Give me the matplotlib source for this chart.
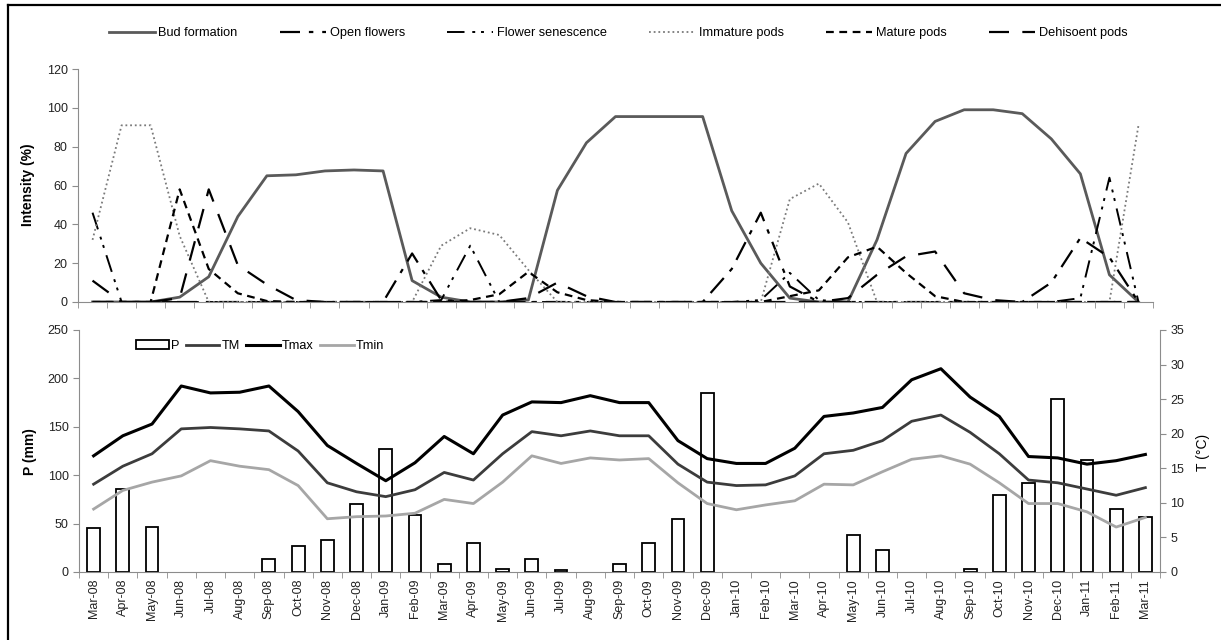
import matplotlib
matplotlib.use("Agg")
import matplotlib.pyplot as plt
from matplotlib.patches import Patch
from matplotlib.lines import Line2D
import numpy as np

plt.rcParams["font.family"] = ["Liberation Sans", "DejaVu Sans"]

# ---- data -------------------------------------------------------------
months = ["Mar-08", "Apr-08", "May-08", "Jun-08", "Jul-08", "Aug-08", "Sep-08",
          "Oct-08", "Nov-08", "Dec-08", "Jan-09", "Feb-09", "Mar-09", "Apr-09",
          "May-09", "Jun-09", "Jul-09", "Aug-09", "Sep-09", "Oct-09", "Nov-09",
          "Dec-09", "Jan-10", "Feb-10", "Mar-10", "Apr-10", "May-10", "Jun-10",
          "Jul-10", "Aug-10", "Sep-10", "Oct-10", "Nov-10", "Dec-10", "Jan-11",
          "Feb-11", "Mar-11"]

# phenophase intensity (%)
bud_formation = [0, 0, 0, 2.5, 13, 44, 65, 65.5, 67.5, 68, 67.5, 11, 2.5, 0, 0, 1,
                 57.5, 82, 95.5, 95.5, 95.5, 95.5, 47, 20, 2, 0, 0, 32, 76.5, 93,
                 99, 99, 97, 84, 66, 14, 0]
open_flowers = [0, 0, 0, 0, 0, 0, 0, 0, 0, 0, 0, 25, 1, 0, 0, 0, 0, 0, 0, 0, 0,
                0, 17, 46, 8, 0, 0, 0, 0, 0, 0, 0, 0, 10, 33, 23, 0]
flower_senescence = [46, 0, 0, 0, 0, 0, 0, 0, 0, 0, 0, 0, 1, 29, 0, 0, 0, 0, 0, 0,
                     0, 0, 0, 1, 15, 1, 0, 0, 0, 0, 0, 0, 0, 0, 2, 64, 0]
immature_pods = [32, 91, 91, 34, 0, 0, 0, 0, 0, 0, 0, 0, 29, 38, 34.5, 16.5, 0, 0,
                 0, 0, 0, 0, 0, 0, 53, 61, 41, 0, 0, 0, 0, 0, 0, 0, 0, 0, 91]
mature_pods = [0, 0, 0, 58, 17, 4.5, 0.5, 0, 0, 0, 0, 0, 0, 1, 4, 15.5, 5, 1, 0, 0,
               0, 0, 0, 0, 3, 6, 23, 28.5, 15, 3, 0, 0, 0, 0, 0, 0, 0]
dehiscent_pods = [11, 0, 0, 2, 58, 19, 9, 1, 0, 0, 0, 0, 0, 0, 0, 2, 10, 3, 0, 0,
                  0, 0, 0, 0, 0, 0, 2, 14, 23.5, 26, 4.5, 1, 0, 0, 0, 0, 0]

# monthly precipitation (mm)
precip = [45, 86, 46, 0, 0, 0, 13, 27, 33, 70, 127, 59, 8, 30, 3.4, 13, 1.7, 0,
          8.3, 30, 55, 185, 0, 0, 0, 0, 38, 22.7, 0, 0, 3.4, 79.5, 92, 178.7,
          115.7, 65, 57]
# temperatures (°C)
t_mean = [12.7, 15.3, 17.1, 20.7, 20.9, 20.7, 20.4, 17.5, 12.9, 11.6, 10.9, 11.9,
          14.4, 13.3, 17.1, 20.3, 19.7, 20.4, 19.7, 19.7, 15.6, 13.0, 12.5, 12.6,
          13.9, 17.1, 17.6, 19.0, 21.8, 22.7, 20.2, 17.1, 13.3, 12.9, 12.0, 11.1,
          12.2]
t_max = [16.8, 19.7, 21.4, 26.9, 25.9, 26.0, 26.9, 23.2, 18.3, 15.7, 13.2, 15.8,
         19.6, 17.1, 22.7, 24.6, 24.5, 25.5, 24.5, 24.5, 19.0, 16.4, 15.7, 15.7,
         17.9, 22.5, 23.0, 23.8, 27.8, 29.4, 25.3, 22.5, 16.7, 16.5, 15.6, 16.1,
         17.0]
t_min = [9.1, 11.8, 13.0, 13.9, 16.1, 15.3, 14.8, 12.5, 7.7, 8.0, 8.1, 8.5, 10.5,
         9.9, 13.0, 16.8, 15.7, 16.5, 16.2, 16.4, 12.9, 9.9, 9.0, 9.7, 10.3, 12.7,
         12.6, 14.5, 16.3, 16.8, 15.6, 12.9, 9.9, 9.9, 8.7, 6.5, 7.9]

# ---- figure -----------------------------------------------------------
W, H = 1221, 640
fig = plt.figure(figsize=(W / 100, H / 100), dpi=100)


def fx(px):
    return px / W


def fy(py):
    return 1 - py / H


x = np.arange(len(months))
spine_col = "#8c8c8c"
tick_kw = dict(labelsize=9, colors="#222222")

# ---- phenology panel --------------------------------------------------
ax1 = fig.add_axes([fx(78), fy(302), fx(1153) - fx(78), fy(69) - fy(302)])
phases = [
    ("Bud formation", bud_formation, dict(color="#5a5a5a", lw=2.0, ls="-")),
    ("Open flowers", open_flowers, dict(color="black", lw=1.6, ls=(0, (9, 4, 2, 4)))),
    ("Flower senescence", flower_senescence,
     dict(color="black", lw=1.4, ls=(0, (9, 4, 1.5, 3, 1.5, 4)))),
    ("Immature pods", immature_pods, dict(color="#7a7a7a", lw=1.3, ls=(0, (1, 1.6)))),
    ("Mature pods", mature_pods, dict(color="black", lw=1.6, ls=(0, (3.5, 2.5)))),
    ("Dehisoent pods", dehiscent_pods, dict(color="black", lw=1.6, ls=(0, (9, 6)))),
]
handles = []
for name, vals, style in phases:
    ln, = ax1.plot(x, vals, label=name, **style)
    handles.append(ln)

ax1.set_xlim(-0.5, len(months) - 0.5)
ax1.set_ylim(0, 120)
ax1.set_yticks(range(0, 121, 20))
ax1.set_xticks([])
ax1.set_xticks(np.arange(-0.5, len(months)), minor=True)
ax1.tick_params(axis="x", which="minor", length=4, color=spine_col, direction="out")
ax1.tick_params(axis="y", length=4, color=spine_col, **tick_kw)
for s in ("top", "right"):
    ax1.spines[s].set_visible(False)
for s in ("left", "bottom"):
    ax1.spines[s].set_color(spine_col)
fig.text(fx(28), fy(185), "Intensity (%)", rotation=90, fontsize=10,
         fontweight="bold", ha="center", va="center")

fig.legend(handles=handles, loc="center", bbox_to_anchor=(fx(618), fy(33)),
           ncol=6, frameon=False, fontsize=9.2, handlelength=3.6,
           columnspacing=3.3, handletextpad=0.3)

# ---- climate panel ----------------------------------------------------
ax2 = fig.add_axes([fx(79), fy(572), fx(1160) - fx(79), fy(330) - fy(572)])
precip_arr = np.array(precip, dtype=float)
wet = precip_arr > 0
ax2.bar(x[wet], precip_arr[wet], width=0.44, color="white", edgecolor="black",
        linewidth=1.3, zorder=2)
ax2.set_xlim(-0.5, len(months) - 0.5)
ax2.set_ylim(0, 250)
ax2.set_yticks(range(0, 251, 50))
ax2.set_xticks(x)
ax2.set_xticklabels(months, rotation=90)
ax2.set_xticks(np.arange(-0.5, len(months)), minor=True)
ax2.tick_params(axis="x", which="major", length=0, pad=5, **tick_kw)
ax2.tick_params(axis="x", which="minor", length=4, color=spine_col, direction="out")
ax2.tick_params(axis="y", length=4, color=spine_col, **tick_kw)
ax2.spines["top"].set_visible(False)
ax2.spines["right"].set_visible(False)
for s in ("left", "bottom"):
    ax2.spines[s].set_color(spine_col)
fig.text(fx(30), fy(452), "P (mm)", rotation=90, fontsize=10,
         fontweight="bold", ha="center", va="center")

ax3 = ax2.twinx()
ln_tm, = ax3.plot(x, t_mean, color="#3c3c3c", lw=2.0, label="TM")
ln_tx, = ax3.plot(x, t_max, color="black", lw=2.2, label="Tmax")
ln_tn, = ax3.plot(x, t_min, color="#a6a6a6", lw=2.0, label="Tmin")
ax3.set_ylim(0, 35)
ax3.set_yticks(range(0, 36, 5))
ax3.tick_params(axis="y", length=4, color=spine_col, **tick_kw)
ax3.spines["top"].set_visible(False)
ax3.spines["left"].set_visible(False)
ax3.spines["bottom"].set_visible(False)
ax3.spines["right"].set_color(spine_col)
fig.text(fx(1203), fy(452), "T (°C)", rotation=90, fontsize=10,
         ha="center", va="center")

p_handle = Patch(facecolor="white", edgecolor="black", linewidth=1.3, label="P")
ax2.legend(handles=[p_handle, ln_tm, ln_tx, ln_tn], loc="center left",
           bbox_to_anchor=(fx(124), fy(346)), bbox_transform=fig.transFigure,
           ncol=4, frameon=False, fontsize=9.2, handlelength=2.6,
           handleheight=0.6, columnspacing=0.5, handletextpad=0.2)

# ---- frame ------------------------------------------------------------
fig.add_artist(Line2D([fx(8), fx(8)], [0, fy(5)], color="black", lw=1.6,
                      transform=fig.transFigure))
fig.add_artist(Line2D([fx(8), 1], [fy(5), fy(5)], color="black", lw=1.6,
                      transform=fig.transFigure))

fig.savefig("out.png", dpi=100)
